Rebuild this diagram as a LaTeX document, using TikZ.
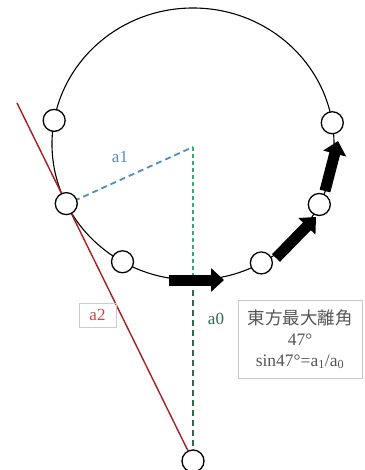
\documentclass[tikz,border=0pt]{standalone}
\usepackage{fontspec}
\setmainfont{Liberation Serif}
\newfontfamily\cjk{Noto Sans CJK JP}
\usetikzlibrary{arrows.meta}
\definecolor{bluea}{RGB}{80,140,200}
\definecolor{greena}{RGB}{60,170,110}
\definecolor{greenb}{RGB}{45,105,75}
\definecolor{reda}{RGB}{170,30,30}
\definecolor{redt}{RGB}{205,70,70}
\definecolor{grayt}{RGB}{85,85,85}
\begin{document}
\begin{tikzpicture}[x=1pt,y=-1pt,
  dot/.style={circle,draw=black,line width=1.3pt,fill=white,minimum size=22pt,inner sep=0pt},
  bigarrow/.style={line width=11pt,-{Triangle[length=13pt,width=23pt]}},
  lbl/.style={font=\fontsize{17}{17}\selectfont,inner sep=1pt}]
\useasboundingbox (0,0) rectangle (364,470);
% orbit
\draw[line width=1.1pt] (193,144) ellipse [x radius=141, y radius=136];
% named points
\coordinate (O) at (193,147);
\coordinate (M) at (193,280);
\coordinate (r0) at (17,103);
\node[dot] (b) at (193,461) {};
% dashed guides
\draw[bluea,line width=1.8pt,dash pattern=on 6pt off 4pt] (65,205) -- (O);
\draw[greena,line width=1.8pt,dash pattern=on 4pt off 3pt] (O) -- (M);
\draw[greenb,line width=1.8pt,dash pattern=on 6pt off 4pt] (M) -- (b);
% red tangent line
\draw[reda,line width=1.4pt] (r0) -- (b);
% planets
\node[dot] (p1) at ({193+141*cos(170)},{144-136*sin(170)}) {};
\node[dot] (p2) at ({193+141*cos(206)},{144-136*sin(206)}) {};
\node[dot] (p3) at ({193+141*cos(240)},{144-136*sin(240)}) {};
\node[dot] (p4) at ({193+141*cos(299)},{144-136*sin(299)}) {};
\node[dot] (p5) at ({193+141*cos(333.6)},{144-136*sin(333.6)}) {};
\node[dot] (p6) at ({193+141*cos(9)},{144-136*sin(9)}) {};
% arrows
\coordinate (a0s) at (169,280); \coordinate (a0e) at (224,280);
\coordinate (a1s) at (276,258); \coordinate (a1e) at (316,217);
\coordinate (a2s) at (325,191); \coordinate (a2e) at (338,141);
\draw[bigarrow] (a0s) -- (a0e);
\draw[bigarrow] (a1s) -- (a1e);
\draw[bigarrow] (a2s) -- (a2e);
% labels
\node[lbl,text=bluea] (la1) at (120,157) {a1};
\node[lbl,text=greenb] (la0) at (216,319) {a0};
\node[lbl,text=redt,draw={rgb,255:red,205;green,205;blue,205},line width=0.6pt,minimum width=37pt,minimum height=24pt] (la2) at (97.5,315) {a2};
\node[draw={rgb,255:red,200;green,200;blue,200},line width=0.8pt,text=grayt,align=center,
  minimum width=124pt,minimum height=78pt,inner sep=2pt,
  font=\fontsize{17.5}{21}\selectfont] (info) at (300,339)
  {{\cjk 東方最大離角}\\47°\\sin47°=a\textsubscript{1}/a\textsubscript{0}};
\end{tikzpicture}
\end{document}
